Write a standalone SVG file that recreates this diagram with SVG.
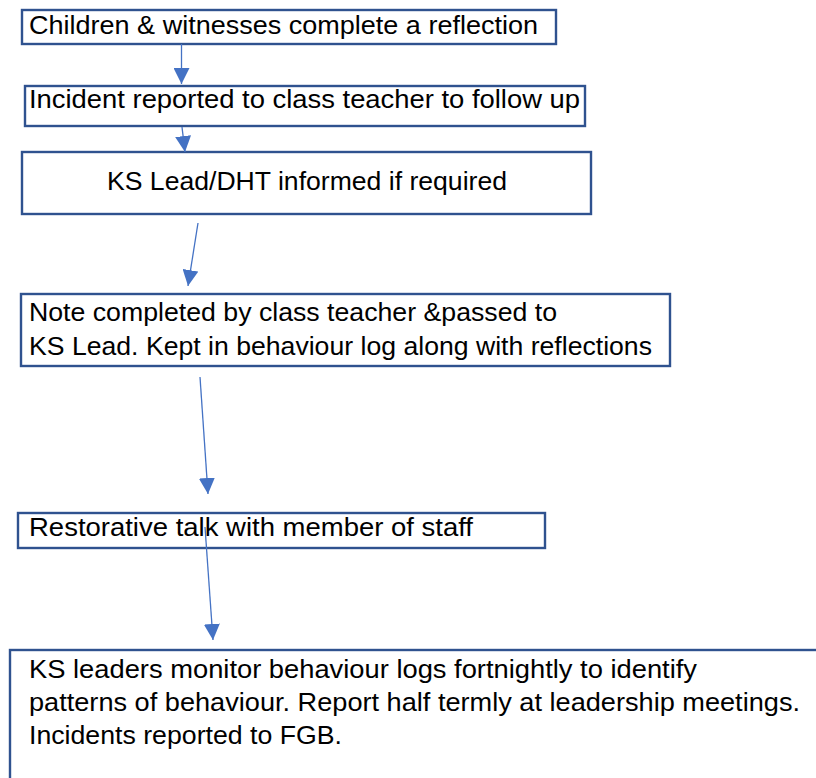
<svg xmlns="http://www.w3.org/2000/svg" width="816" height="778" viewBox="0 0 816 778">
<style>
.box{fill:#fff;stroke:#2F528F;stroke-width:2.4}
.t{font-family:"Liberation Sans",Arial,sans-serif;font-size:25px;fill:#000}
.c{stroke:#4472C4;stroke-width:1.3;fill:none;marker-end:url(#ah)}
</style>
<defs>
<marker id="ah" markerUnits="userSpaceOnUse" markerWidth="16" markerHeight="16" refX="16" refY="8" orient="auto">
<path d="M0,0 L16,8 L0,16 z" fill="#4472C4"/>
</marker>
</defs>
<rect width="816" height="778" fill="#fff"/>
<g id="n1">
<rect class="box" x="22" y="10" width="534" height="34"/>
<text class="t" x="29" y="34" textLength="509" lengthAdjust="spacingAndGlyphs">Children &amp; witnesses complete a reflection</text>
</g>
<g id="n2">
<rect class="box" x="25" y="86" width="560" height="40"/>
<text class="t" x="29" y="108" textLength="551" lengthAdjust="spacingAndGlyphs">Incident reported to class teacher to follow up</text>
</g>
<g id="n3">
<rect class="box" x="22" y="152" width="569" height="62"/>
<text class="t" x="107" y="190" textLength="400" lengthAdjust="spacingAndGlyphs">KS Lead/DHT informed if required</text>
</g>
<g id="n4">
<rect class="box" x="21" y="294" width="649" height="72"/>
<text class="t" x="29" y="321" textLength="528" lengthAdjust="spacingAndGlyphs">Note completed by class teacher &amp;passed to</text>
<text class="t" x="29" y="355" textLength="623" lengthAdjust="spacingAndGlyphs">KS Lead. Kept in behaviour log along with reflections</text>
</g>
<g id="n5">
<rect class="box" x="18" y="513" width="527" height="35"/>
<text class="t" x="29" y="536" textLength="444" lengthAdjust="spacingAndGlyphs">Restorative talk with member of staff</text>
</g>
<g id="n6">
<rect class="box" x="10" y="650" width="820" height="140"/>
<text class="t" x="29" y="678" textLength="668" lengthAdjust="spacingAndGlyphs">KS leaders monitor behaviour logs fortnightly to identify</text>
<text class="t" x="29" y="711" textLength="771" lengthAdjust="spacingAndGlyphs">patterns of behaviour. Report half termly at leadership meetings.</text>
<text class="t" x="29" y="744" textLength="313" lengthAdjust="spacingAndGlyphs">Incidents reported to FGB.</text>
</g>
<g id="connectors">
<line class="c" x1="181.5" y1="44" x2="181.5" y2="84"/>
<line class="c" x1="182" y1="127" x2="185" y2="152"/>
<line class="c" x1="198" y1="223" x2="188" y2="286"/>
<line class="c" x1="200" y1="377" x2="208" y2="494"/>
<line class="c" x1="205" y1="527" x2="213" y2="640"/>
</g>
</svg>
